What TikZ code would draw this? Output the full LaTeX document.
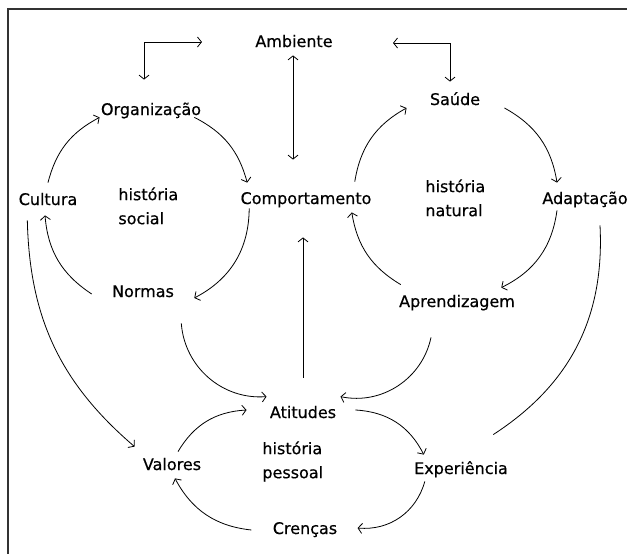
\documentclass[tikz,border=0pt]{standalone}
\usepackage{fontspec}
\setmainfont{DejaVu Sans}
\newfontfamily\lblfont{DejaVu Sans}[FakeBold=0.5]
\usetikzlibrary{arrows.meta}

\tikzset{
	box/.style={inner sep=2pt, text height=12pt, text depth=4pt, font=\lblfont\fontsize{16}{19}\selectfont},
	hist/.style={anchor=north west, inner sep=0pt, align=left, font=\lblfont\fontsize{16}{24}\selectfont},
	arr/.style={-{Straight Barb[length=4pt,width=10pt]}},
	dbl/.style={{Straight Barb[length=4pt,width=10pt]}-{Straight Barb[length=4pt,width=10pt]}},
}

\begin{document}
\begin{tikzpicture}[x=1pt, y=-1pt, line width=0.8pt]
	\useasboundingbox (0,0) rectangle (627,554);
	\draw[line width=1.3pt, black!80] (8,554) -- (8,9) -- (627,9);

	\node[box] (amb) at (294,43) {Ambiente};
	\node[box] (org) at (151,111) {Organização};
	\node[box] (saude) at (455,101) {Saúde};
	\node[box] (cult) at (48,201) {Cultura};
	\node[box] (comp) at (306,200) {Comportamento};
	\node[box] (adapt) at (585,200) {Adaptação};
	\node[box] (normas) at (143,293) {Normas};
	\node[box] (aprend) at (457,303) {Aprendizagem};
	\node[box] (atit) at (303,414) {Atitudes};
	\node[box] (valores) at (172,466) {Valores};
	\node[box] (exp) at (461,470) {Experiência};
	\node[box] (cren) at (305,530) {Crenças};
	\node[hist] (hsocial) at (118,187) {história\\social};
	\node[hist] (hnatural) at (425,179) {história\\natural};
	\node[hist] (hpessoal) at (262,441) {história\\pessoal};

	% social
	\draw ([shift={(0,-8)}]cult.north) edge[arr, bend left=24] ([shift={(1,-4)}]org.south west);
	\draw ([shift={(-9,-4)}]org.south east) edge[arr, bend left=24] ([shift={(9,-7)}]comp.north west);
	\draw ([shift={(11,-2)}]comp.south west) edge[arr, bend left=31] ([shift={(18,5)}]normas.east);
	\draw ([shift={(-18,1)}]normas.west) edge[arr, bend left=26] ([shift={(-3,4)}]cult.south);

	% natural
	\draw ([shift={(-19,-8)}]comp.north east) edge[arr, bend left=26] ([shift={(-21,7)}]saude.west);
	\draw ([shift={(22,7)}]saude.east) edge[arr, bend left=26] ([shift={(-28,-7)}]adapt.north);
	\draw ([shift={(-28,0)}]adapt.south) edge[arr, bend left=28] ([shift={(-16,-5)}]aprend.north east);
	\draw ([shift={(4,-8)}]aprend.north west) edge[arr, bend left=25] ([shift={(-22,2)}]comp.south east);

	% pessoal
	\draw ([shift={(5,20)}]normas.south east) edge[arr, bend right=45] ([shift={(-1,-7)}]atit.north west);
	\draw ([shift={(-26,24)}]aprend.south) edge[arr, bend left=45] ([shift={(2,-7)}]atit.north east);
	\draw ([shift={(17,-4)}]atit.east) edge[arr, bend left=30] ([shift={(12,-5)}]exp.north west);
	\draw ([shift={(13,1)}]exp.south west) edge[arr, bend left=40] ([shift={(18,-2)}]cren.east);
	\draw ([shift={(-19,0)}]cren.west) edge[arr, bend left=28] ([shift={(3,2)}]valores.south);
	\draw ([shift={(6,-4)}]valores.north) edge[arr, bend left=28] ([shift={(-21,-4)}]atit.west);
	\draw ([shift={(11,9)}]cult.south west) edge[arr, bend right=24] ([shift={(-6,-9)}]valores.north west);
	\draw ([shift={(15,15)}]adapt.south) edge[bend left=30] ([shift={(-17,-25)}]exp.north east);

	% ambiente
	\draw[dbl] ([shift={(-1,2)}]amb.south) -- ([shift={(-13,-30)}]comp.north);
	\draw[arr] ([shift={(0,-26)}]atit.north) -- ([shift={(-3,27)}]comp.south);
	\draw[dbl] ([shift={(-51,-1)}]amb.west) -| ([shift={(-7,-21)}]org.north);
	\draw[dbl] ([shift={(58,0)}]amb.east) -| ([shift={(-5,-9)}]saude.north);
\end{tikzpicture}
\end{document}
